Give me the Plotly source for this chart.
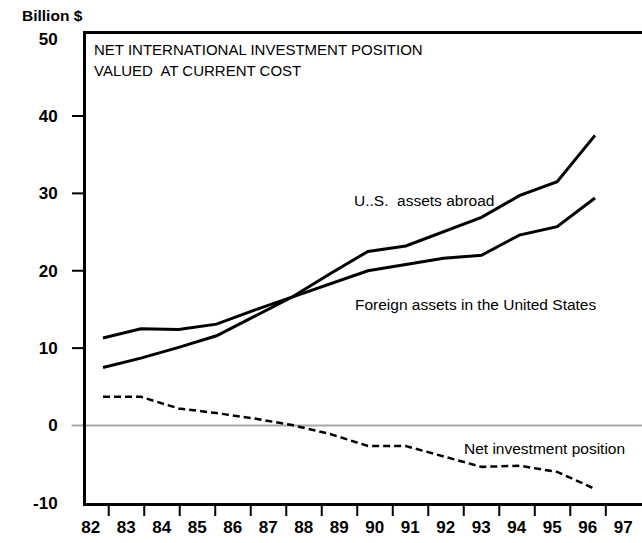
import plotly.graph_objects as go

# Year-end values, billion dollars
years = [82, 83, 84, 85, 86, 87, 88, 89, 90, 91, 92, 93, 94, 95]
us_assets_abroad = [7.5, 8.7, 10.1, 11.6, 14.1, 16.6, 19.6, 22.5, 23.2, 25.1, 26.9, 29.7, 31.5, 37.5]
foreign_assets_in_us = [11.3, 12.5, 12.4, 13.1, 14.9, 16.6, 18.4, 20.0, 20.8, 21.6, 22.0, 24.6, 25.7, 29.4]
net_position = [3.7, 3.7, 2.2, 1.6, 0.9, 0.05, -1.1, -2.65, -2.65, -4.0, -5.35, -5.2, -6.0, -8.2]

# Axis labels: each year label sits centred in its span, tick marks at the span ends
year_labels = ["82", "83", "84", "85", "86", "87", "88", "89", "90", "91", "92", "93", "94", "95", "96", "97"]
year_span_ends = [82.5 + i for i in range(len(year_labels))]
y_label_vals = [-10, 0, 10, 20, 30, 40, 50]
y_tick_marks = [10, 20, 30, 40]

X_RANGE = [81.86, 97.52]
Y_RANGE = [-10.02, 50.6]
PLOT_W = 642 - 86
PLOT_H = 543 - 34 - 40
X_TICK_LEN = 13
Y_TICK_LEN = 14
LABEL_FONT = "Liberation Sans, Arial, Helvetica, sans-serif"
TEXT_FONT = "Liberation Sans, Arial, Helvetica, sans-serif"


def x_frac(v):
    return (v - X_RANGE[0]) / (X_RANGE[1] - X_RANGE[0])


def y_frac(v):
    return (v - Y_RANGE[0]) / (Y_RANGE[1] - Y_RANGE[0])


fig = go.Figure()

line_style = dict(color="black", width=3)
fig.add_trace(go.Scatter(x=years, y=us_assets_abroad, mode="lines", line=line_style,
                         xaxis="x2", yaxis="y", name="U.S. assets abroad"))
fig.add_trace(go.Scatter(x=years, y=foreign_assets_in_us, mode="lines", line=line_style,
                         xaxis="x2", yaxis="y", name="Foreign assets in the United States"))
fig.add_trace(go.Scatter(x=years, y=net_position, mode="lines",
                         line=dict(color="black", width=2.5, dash="7px,4px"),
                         xaxis="x2", yaxis="y", name="Net investment position"))
# empty trace so the labelled year axis is drawn
fig.add_trace(go.Scatter(x=[None], y=[None], xaxis="x", yaxis="y",
                         showlegend=False, hoverinfo="skip"))

# zero reference line, running slightly out past the left axis
fig.add_shape(type="line", xref="x domain", yref="y domain", x0=-0.026, x1=1,
              y0=y_frac(0), y1=y_frac(0), line=dict(color="#a8a8a8", width=2), layer="below")

# outward tick marks: year-span ends along the bottom, decades on the value axis
for v in year_span_ends[:-1]:
    fig.add_shape(type="line", xref="x domain", yref="y domain", x0=x_frac(v), x1=x_frac(v),
                  y0=0, y1=-X_TICK_LEN / PLOT_H, line=dict(color="black", width=2))
for v in y_tick_marks:
    fig.add_shape(type="line", xref="x domain", yref="y domain", x0=-Y_TICK_LEN / PLOT_W, x1=0,
                  y0=y_frac(v), y1=y_frac(v), line=dict(color="black", width=2))

title_font = dict(family=TEXT_FONT, size=15, color="black")
text_font = dict(family=TEXT_FONT, size=15.5, color="black")
fig.add_annotation(text="NET INTERNATIONAL INVESTMENT POSITION", xref="paper", yref="paper",
                   x=0.0108, y=0.968, xanchor="left", yanchor="middle", showarrow=False, font=title_font)
fig.add_annotation(text="VALUED  AT CURRENT COST", xref="paper", yref="paper",
                   x=0.0108, y=0.923, xanchor="left", yanchor="middle", showarrow=False, font=title_font)
fig.add_annotation(text="U..S.  assets abroad", xref="x2", yref="y",
                   x=88.58, y=29.05, xanchor="left", yanchor="middle", showarrow=False, font=text_font)
fig.add_annotation(text="Foreign assets in the United States", xref="x2", yref="y",
                   x=88.61, y=15.69, xanchor="left", yanchor="middle", showarrow=False, font=text_font)
fig.add_annotation(text="Net investment position", xref="x2", yref="y",
                   x=91.49, y=-2.94, xanchor="left", yanchor="middle", showarrow=False, font=text_font)
fig.add_annotation(text="<b>Billion $</b>", xref="paper", yref="paper",
                   x=-0.0594, y=1.0384, xanchor="center", yanchor="middle", showarrow=False,
                   font=dict(family=TEXT_FONT, size=15.5, color="black"))

tick_font = dict(family=LABEL_FONT, size=17, color="black", weight="bold")
half_year_px = int(round(PLOT_W / (X_RANGE[1] - X_RANGE[0]) / 2))

fig.update_layout(
    width=642, height=543,
    margin=dict(l=86, r=0, t=34, b=40),
    paper_bgcolor="white", plot_bgcolor="white",
    showlegend=False,
    xaxis=dict(
        range=X_RANGE, tickmode="array", tickvals=year_span_ends, ticktext=year_labels,
        ticklabelshift=-half_year_px, ticklabelstandoff=7, ticks="",
        showgrid=False, zeroline=False, tickfont=tick_font,
        showline=True, linecolor="black", linewidth=3, mirror=True,
    ),
    xaxis2=dict(range=[81.5508, 96.2419], overlaying="x", visible=False),
    yaxis=dict(
        range=Y_RANGE, tickmode="array", tickvals=y_label_vals,
        ticktext=[str(v) for v in y_label_vals], ticks="",
        showgrid=False, zeroline=False, tickfont=tick_font, ticklabelstandoff=22,
        showline=True, linecolor="black", linewidth=3,
    ),
)

fig.write_html("out.html")
